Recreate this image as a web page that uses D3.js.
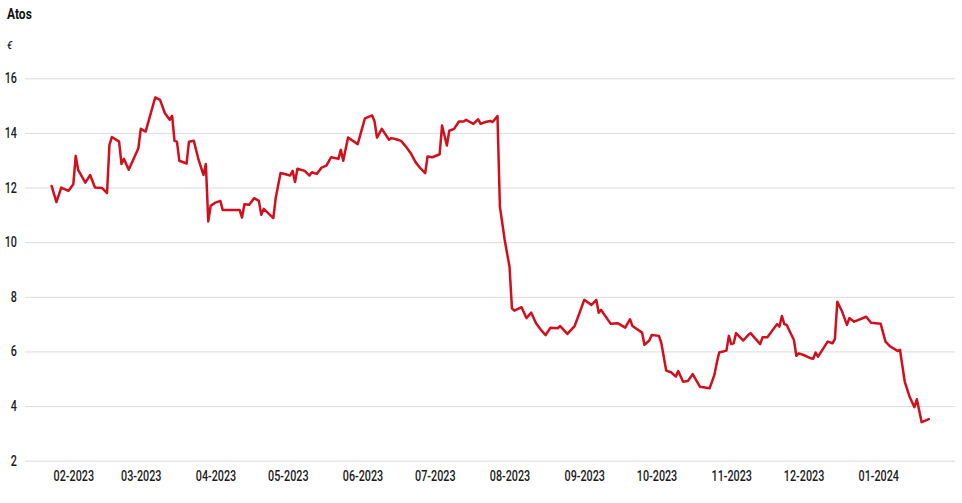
<!DOCTYPE html>
<html>
<head>
<meta charset="utf-8">
<script src="https://cdn.jsdelivr.net/npm/d3@7"></script>
<style>
  html, body { margin: 0; padding: 0; background: #fff; }
  svg { display: block; font-family: 'Roboto', 'Liberation Sans', sans-serif; }
</style>
</head>
<body>
<svg id="chart" width="962" height="503"></svg>
<script>
const title = "Atos";
const unitLabel = "€";

const dates = [
  "2023-01-23","2023-01-25","2023-01-27","2023-01-30","2023-02-01","2023-02-02","2023-02-03","2023-02-06","2023-02-08","2023-02-10",
  "2023-02-13","2023-02-15","2023-02-16","2023-02-17","2023-02-20","2023-02-21","2023-02-22","2023-02-24","2023-02-28","2023-03-01",
  "2023-03-03","2023-03-07","2023-03-09","2023-03-11","2023-03-13","2023-03-14","2023-03-15","2023-03-16","2023-03-17","2023-03-20",
  "2023-03-21","2023-03-23","2023-03-25","2023-03-27","2023-03-28","2023-03-29","2023-03-30","2023-04-01","2023-04-03","2023-04-04",
  "2023-04-11","2023-04-12","2023-04-13","2023-04-15","2023-04-17","2023-04-19","2023-04-20","2023-04-21","2023-04-25","2023-04-26",
  "2023-04-28","2023-05-02","2023-05-03","2023-05-04","2023-05-05","2023-05-08","2023-05-10","2023-05-11","2023-05-13","2023-05-15",
  "2023-05-17","2023-05-19","2023-05-22","2023-05-23","2023-05-24","2023-05-26","2023-05-30","2023-06-02","2023-06-05","2023-06-06",
  "2023-06-07","2023-06-09","2023-06-12","2023-06-13","2023-06-15","2023-06-17","2023-06-19","2023-06-21","2023-06-23","2023-06-25",
  "2023-06-27","2023-06-28","2023-06-30","2023-07-03","2023-07-04","2023-07-06","2023-07-07","2023-07-09","2023-07-11","2023-07-13",
  "2023-07-14","2023-07-17","2023-07-19","2023-07-20","2023-07-22","2023-07-24","2023-07-25","2023-07-27","2023-07-28","2023-07-30",
  "2023-08-01","2023-08-02","2023-08-03","2023-08-06","2023-08-08","2023-08-10","2023-08-12","2023-08-14","2023-08-16","2023-08-18",
  "2023-08-21","2023-08-22","2023-08-25","2023-08-28","2023-08-30","2023-09-01","2023-09-04","2023-09-06","2023-09-07","2023-09-08",
  "2023-09-12","2023-09-15","2023-09-18","2023-09-20","2023-09-21","2023-09-25","2023-09-26","2023-09-28","2023-09-29","2023-10-02",
  "2023-10-03","2023-10-05","2023-10-07","2023-10-09","2023-10-10","2023-10-12","2023-10-14","2023-10-16","2023-10-19","2023-10-23",
  "2023-10-25","2023-10-26","2023-10-27","2023-10-30","2023-10-31","2023-11-01","2023-11-02","2023-11-03","2023-11-06","2023-11-08",
  "2023-11-09","2023-11-13","2023-11-14","2023-11-16","2023-11-20","2023-11-21","2023-11-22","2023-11-23","2023-11-24","2023-11-27",
  "2023-11-28","2023-11-29","2023-12-01","2023-12-04","2023-12-05","2023-12-06","2023-12-07","2023-12-11","2023-12-13","2023-12-14",
  "2023-12-15","2023-12-17","2023-12-19","2023-12-20","2023-12-22","2023-12-27","2023-12-29","2024-01-02","2024-01-04","2024-01-06",
  "2024-01-09","2024-01-10","2024-01-12","2024-01-14","2024-01-16","2024-01-17","2024-01-19","2024-01-22"
];

const prices = [
  12.06,11.47,12.0,11.88,12.12,13.16,12.65,12.18,12.46,12.0,
  11.98,11.8,13.56,13.85,13.68,12.86,13.05,12.65,13.44,14.15,
  14.05,15.3,15.21,14.72,14.48,14.63,13.71,13.68,12.98,12.88,
  13.68,13.71,13.01,12.46,12.86,10.76,11.33,11.45,11.51,11.18,
  11.18,10.9,11.39,11.37,11.61,11.51,11.0,11.22,10.88,11.63,
  12.53,12.44,12.61,12.2,12.69,12.61,12.44,12.56,12.5,12.73,
  12.8,13.11,13.05,13.38,12.98,13.83,13.59,14.53,14.64,14.42,
  13.83,14.15,13.75,13.81,13.77,13.71,13.5,13.26,12.93,12.71,
  12.53,13.14,13.11,13.22,14.27,13.54,14.08,14.15,14.42,14.42,
  14.48,14.33,14.5,14.33,14.4,14.44,14.4,14.62,11.3,10.08,
  9.1,7.58,7.49,7.62,7.22,7.42,7.03,6.79,6.6,6.87,
  6.85,6.93,6.64,6.93,7.4,7.89,7.7,7.89,7.42,7.52,
  7.01,7.03,6.87,7.18,6.93,6.69,6.24,6.4,6.6,6.57,
  6.3,5.3,5.24,5.08,5.28,4.89,4.92,5.17,4.71,4.65,
  5.14,5.59,5.96,6.03,6.57,6.27,6.3,6.67,6.4,6.6,
  6.67,6.27,6.52,6.52,7.0,6.91,7.3,7.0,6.97,6.42,
  5.84,5.93,5.87,5.75,5.73,5.96,5.81,6.36,6.3,6.45,
  7.82,7.46,6.97,7.22,7.09,7.27,7.05,7.01,6.36,6.18,
  6.02,6.06,4.89,4.34,3.96,4.25,3.41,3.52
];

const xTickLabels = ["02-2023","03-2023","04-2023","05-2023","06-2023","07-2023","08-2023","09-2023","10-2023","11-2023","12-2023","01-2024"];
const yTickValues = [2,4,6,8,10,12,14,16];
const xDomain = ["2023-01-11T23:00","2024-02-01T20:00"];
const yDomain = [2,16];

const svg = d3.select("#chart");
const plot = { left: 25, right: 955, top: 78.3, bottom: 460.7 };
const squeeze = 0.77;   // narrow the font to mimic the condensed typeface
const labelFont = "'Roboto', 'Liberation Sans', sans-serif";
const textColor = "#1b1b1b";

const parseDate = d3.utcParse("%Y-%m-%d");
const parseMonth = d3.utcParse("%m-%Y");
const parseTime = d3.utcParse("%Y-%m-%dT%H:%M");

const data = dates.map((d, i) => ({ date: parseDate(d), value: prices[i] }));

const x = d3.scaleUtc()
  .domain(xDomain.map(parseTime))
  .range([plot.left, plot.right]);

const y = d3.scaleLinear()
  .domain(yDomain)
  .range([plot.bottom, plot.top]);

// Y gridlines + labels
const yAxis = d3.axisLeft(y)
  .tickValues(yTickValues)
  .tickSize(-(plot.right - plot.left))
  .tickPadding(8)
  .tickFormat(d3.format("d"));

const gy = svg.append("g")
  .attr("transform", `translate(${plot.left},0)`)
  .call(yAxis);
gy.select(".domain").remove();
gy.selectAll(".tick line").attr("stroke", "#dcdcdc").attr("stroke-width", 1);
gy.selectAll(".tick text")
  .attr("x", -8 / squeeze)
  .attr("transform", `scale(${squeeze},1)`)
  .attr("fill", textColor)
  .attr("font-size", 14)
  .attr("font-weight", 500)
  .attr("font-family", labelFont);

// X labels
const xAxis = d3.axisBottom(x)
  .tickValues(xTickLabels.map(parseMonth))
  .tickSize(0)
  .tickPadding(10)
  .tickFormat(d3.utcFormat("%m-%Y"));

const gx = svg.append("g")
  .attr("transform", `translate(0,${plot.bottom})`)
  .call(xAxis);
gx.select(".domain").remove();
gx.selectAll(".tick text")
  .attr("transform", `scale(${squeeze},1)`)
  .attr("fill", textColor)
  .attr("font-size", 14)
  .attr("font-weight", 500)
  .attr("font-family", labelFont);

// Line
const line = d3.line()
  .x(d => x(d.date))
  .y(d => y(d.value));

svg.append("path")
  .datum(data)
  .attr("fill", "none")
  .attr("stroke", "#d10f1d")
  .attr("stroke-width", 2.5)
  .attr("stroke-linejoin", "round")
  .attr("stroke-linecap", "round")
  .attr("d", line);

// Title & unit
svg.append("text")
  .attr("transform", "translate(7,19) scale(0.8,1)")
  .attr("font-size", 15)
  .attr("font-weight", "bold")
  .attr("fill", "#111")
  .text(title);

svg.append("text")
  .attr("transform", "translate(7,49) scale(0.85,1)")
  .attr("font-size", 11)
  .attr("font-style", "italic")
  .attr("font-weight", 500)
  .attr("fill", textColor)
  .text(unitLabel);
</script>
</body>
</html>
